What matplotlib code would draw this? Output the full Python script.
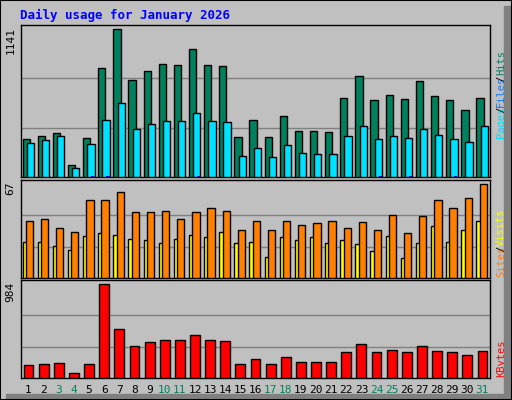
import numpy as np
import matplotlib.pyplot as plt

days = list(range(1, 32))
weekend = [3, 4, 10, 11, 17, 18, 24, 25, 31]

hits = [295, 318, 341, 93, 303, 838, 1141, 745, 815, 869, 861, 985, 861, 853, 310,
        442, 310, 473, 357, 357, 349, 613, 776, 590, 629, 598, 737, 621, 590, 520, 613]
files = [264, 287, 318, 70, 256, 442, 574, 372, 411, 434, 434, 497, 434, 427, 163,
         225, 155, 248, 186, 178, 178, 318, 396, 295, 318, 303, 372, 326, 295, 272, 396]
pages = [3, 3, 2, 2, 4, 6, 3, 3, 2, 3, 3, 4, 3, 3, 2, 3, 2, 3, 2, 2, 2, 3, 3, 4, 3, 4, 3, 3, 4, 3, 3]
visits = [41, 42, 36, 33, 56, 56, 61, 47, 47, 48, 42, 47, 50, 48, 34,
          41, 34, 41, 38, 39, 41, 36, 40, 34, 45, 32, 44, 56, 50, 57, 67]
sites = [26, 26, 23, 20, 30, 32, 31, 28, 27, 25, 28, 31, 29, 33, 25,
         26, 15, 29, 27, 29, 25, 27, 24, 19, 30, 14, 25, 37, 26, 34, 41]
kbytes = [136, 147, 157, 50, 147, 984, 512, 340, 372, 394, 394, 447, 394, 383, 147,
          200, 147, 222, 168, 168, 168, 276, 351, 276, 297, 276, 340, 286, 276, 243, 286]

W, H = 512, 400
BG = '#C0C0C0'
MONO = 'DejaVu Sans Mono'

fig = plt.figure(figsize=(W / 100, H / 100), dpi=100, facecolor=BG)

# shadow + border
fig.patches.append(plt.Rectangle((1 - 8 / W, 0), 8 / W, 1 - 6 / H, transform=fig.transFigure,
                                 color='#808080', zorder=0))
fig.patches.append(plt.Rectangle((6 / W, 0), 1 - 6 / W, 6 / H, transform=fig.transFigure,
                                 color='#808080', zorder=0))
fig.patches.append(plt.Rectangle((0, 0), 1, 1, transform=fig.transFigure,
                                 fill=False, edgecolor='black', lw=1.5))

fig.text(20 / W, 1 - 15 / H, 'Daily usage for January 2026', color='#0000FF',
         fontsize=9, fontweight='bold', family=MONO, va='center')


def make_ax(top, bottom):
    ax = fig.add_axes([21 / W, 1 - bottom / H, (490 - 21) / W, (bottom - top) / H])
    ax.set_facecolor(BG)
    ax.set_xlim(0.5, 31.5)
    ax.set_xticks([])
    ax.set_yticks([])
    for s in ax.spines.values():
        s.set_color('black')
        s.set_linewidth(1)
    return ax


x = np.array(days)
edge = dict(edgecolor='black', linewidth=1, zorder=3)

ax1 = make_ax(25, 177)
ax1.set_ylim(0, max(hits) * 151 / 147)
for g in (1 / 3, 2 / 3):
    ax1.axhline(max(hits) * g, color='#808080', lw=1, zorder=1)
ax1.bar(x - 0.4, hits, width=0.48, align='edge', color='#00805C', **edge)
ax1.bar(x - 0.12, files, width=0.48, align='edge', color='#00E0FF', **edge)
ax1.bar(x + 0.15, pages, width=0.2, align='edge', color='#0000C0', zorder=4)
ax1.text(-0.012, 0.99, str(max(hits)), transform=ax1.transAxes, rotation=90,
         ha='right', va='top', fontsize=8, family=MONO)

ax2 = make_ax(180, 278)
ax2.set_ylim(0, max(visits) * 96 / 92)
for g in (1 / 3, 2 / 3):
    ax2.axhline(max(visits) * g, color='#808080', lw=1, zorder=1)
ax2.bar(x - 0.4, sites, width=0.3, align='edge', color='#FFFF00', **edge)
ax2.bar(x - 0.18, visits, width=0.48, align='edge', color='#FF8000', **edge)
ax2.text(-0.012, 0.98, str(max(visits)), transform=ax2.transAxes, rotation=90,
         ha='right', va='top', fontsize=8, family=MONO)

ax3 = make_ax(280, 378)
ax3.set_ylim(0, max(kbytes) * 96 / 92)
for g in (1 / 3, 2 / 3):
    ax3.axhline(max(kbytes) * g, color='#808080', lw=1, zorder=1)
ax3.bar(x, kbytes, width=0.65, color='#FF0000', **edge)
ax3.text(-0.012, 0.98, str(max(kbytes)), transform=ax3.transAxes, rotation=90,
         ha='right', va='top', fontsize=8, family=MONO)

for d in days:
    ax3.text(d, -0.12, str(d), transform=ax3.get_xaxis_transform(), ha='center',
             va='center', fontsize=8, family=MONO,
             color='#00805C' if d in weekend else 'black')


def stacked(ax, parts, y_bottom_px, ax_top, ax_bottom):
    # parts listed bottom to top, stepped by character width
    y = y_bottom_px
    for txt, col in parts:
        fy = (ax_bottom - y) / (ax_bottom - ax_top)
        ax.text(1 + 11 / 469, fy, txt, transform=ax.transAxes, rotation=90,
                ha='center', va='bottom', fontsize=7.5, family=MONO, color=col)
        y -= len(txt) * 4.55 + 2


stacked(ax1, [('Pages', '#00E0FF'), ('/', 'black'), ('Files', '#0080FF'), ('/', 'black'),
              ('Hits', '#00805C')], 138, 25, 177)
stacked(ax2, [('Sites', '#FF8000'), ('/', 'black'), ('Visits', '#FFFF00')], 277, 180, 278)
stacked(ax3, [('KBytes', '#FF0000')], 377, 280, 378)

fig.savefig('out.png', dpi=100, facecolor=BG)
